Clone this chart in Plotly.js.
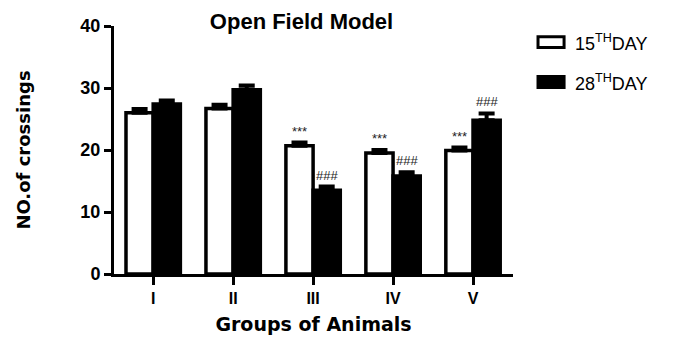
<!DOCTYPE html>
<html><head><meta charset="utf-8">
<script src="https://cdn.plot.ly/plotly-3.0.1.min.js"></script>
<style>html,body{margin:0;padding:0;background:#fff}#chart{width:685px;height:337px}</style>
</head><body><div id="chart"></div>
<script>
const groups = ["I", "II", "III", "IV", "V"];
const day15 = [26.0, 26.7, 20.7, 19.5, 19.9];
const day15Err = [0.6, 0.6, 0.5, 0.5, 0.5];
const day28 = [27.4, 29.7, 13.5, 15.8, 24.8];
const day28Err = [0.6, 0.7, 0.6, 0.6, 1.1];
const sig15 = ["", "", "***", "***", "***"];
const sig28 = ["", "", "###", "###", "###"];
const seriesNames = ["15<sup>TH</sup>DAY", "28<sup>TH</sup>DAY"];

const FONT = "Arial, 'Liberation Sans', sans-serif";
const WIDEFONT = "'DejaVu Sans', Verdana, sans-serif";
const zeros = groups.map(() => 0);

const traces = [
  {type: "bar", x: groups, y: day15, name: seriesNames[0],
   marker: {color: "#ffffff", line: {color: "#000", width: 3.5}},
   error_y: {type: "data", symmetric: false, array: day15Err, arrayminus: zeros, color: "#000", thickness: 4, width: 8}},
  {type: "bar", x: groups, y: day28, name: seriesNames[1],
   marker: {color: "#000000", line: {color: "#000", width: 3.5}},
   error_y: {type: "data", symmetric: false, array: day28Err, arrayminus: zeros, color: "#000", thickness: 4, width: 8}}
];

const annotations = [];
groups.forEach((g, i) => {
  if (sig15[i]) annotations.push({x: g, y: day15[i] + day15Err[i], xref: "x", yref: "y", xshift: -14, yshift: 2,
    yanchor: "bottom", text: sig15[i], showarrow: false, font: {family: FONT, size: 13, color: "#222"}});
  if (sig28[i]) annotations.push({x: g, y: day28[i] + day28Err[i], xref: "x", yref: "y", xshift: 14, yshift: 2,
    yanchor: "bottom", text: sig28[i], showarrow: false, font: {family: FONT, size: 13, color: "#222"}});
});
// legend
const legY = [0.935, 0.774];
const legFill = ["#fff", "#000"];
const shapes = [];
seriesNames.forEach((nm, k) => {
  annotations.push({xref: "paper", yref: "paper", x: 1.15, y: legY[k], xanchor: "left", yanchor: "middle",
    text: nm, showarrow: false, font: {family: FONT, size: 18, color: "#000"}});
  shapes.push({type: "rect", xref: "paper", yref: "paper", x0: 1.0627, x1: 1.128,
    y0: legY[k] - 0.022, y1: legY[k] + 0.022, fillcolor: legFill[k], line: {color: "#000", width: 3}});
});

const layout = {
  width: 685, height: 337,
  margin: {l: 114, r: 172, t: 26, b: 63},
  paper_bgcolor: "#fff", plot_bgcolor: "#fff",
  barmode: "group", bargap: 0.32, bargroupgap: 0,
  showlegend: false,
  font: {family: FONT, color: "#000"},
  title: {text: "<b>Open Field Model</b>", xref: "paper", x: 0.47, xanchor: "center",
    yref: "container", y: 0.938, yanchor: "middle",
    font: {family: FONT, size: 22, color: "#000"}},
  xaxis: {type: "category", range: [-0.49, 4.5], showline: true, linecolor: "#000", linewidth: 3,
    ticks: "outside", ticklen: 8, tickwidth: 3, tickcolor: "#000",
    tickfont: {family: FONT, size: 16, color: "#000", weight: "bold"},
    title: {text: "<b>Groups of Animals</b>", font: {family: WIDEFONT, size: 19, color: "#000"}, standoff: 12},
    showgrid: false, zeroline: false, fixedrange: true},
  yaxis: {range: [0, 40], tickvals: [0, 10, 20, 30, 40], showline: true, linecolor: "#000", linewidth: 3,
    ticks: "outside", ticklen: 7, tickwidth: 3, tickcolor: "#000",
    tickfont: {family: FONT, size: 18, color: "#000", weight: "bold"},
    title: {text: "<b>NO.of crossings</b>", font: {family: WIDEFONT, size: 18, color: "#000"}, standoff: 46},
    showgrid: false, zeroline: false, fixedrange: true},
  annotations: annotations,
  shapes: shapes
};

Plotly.newPlot("chart", traces, layout, {displayModeBar: false, staticPlot: true});
</script></body></html>
